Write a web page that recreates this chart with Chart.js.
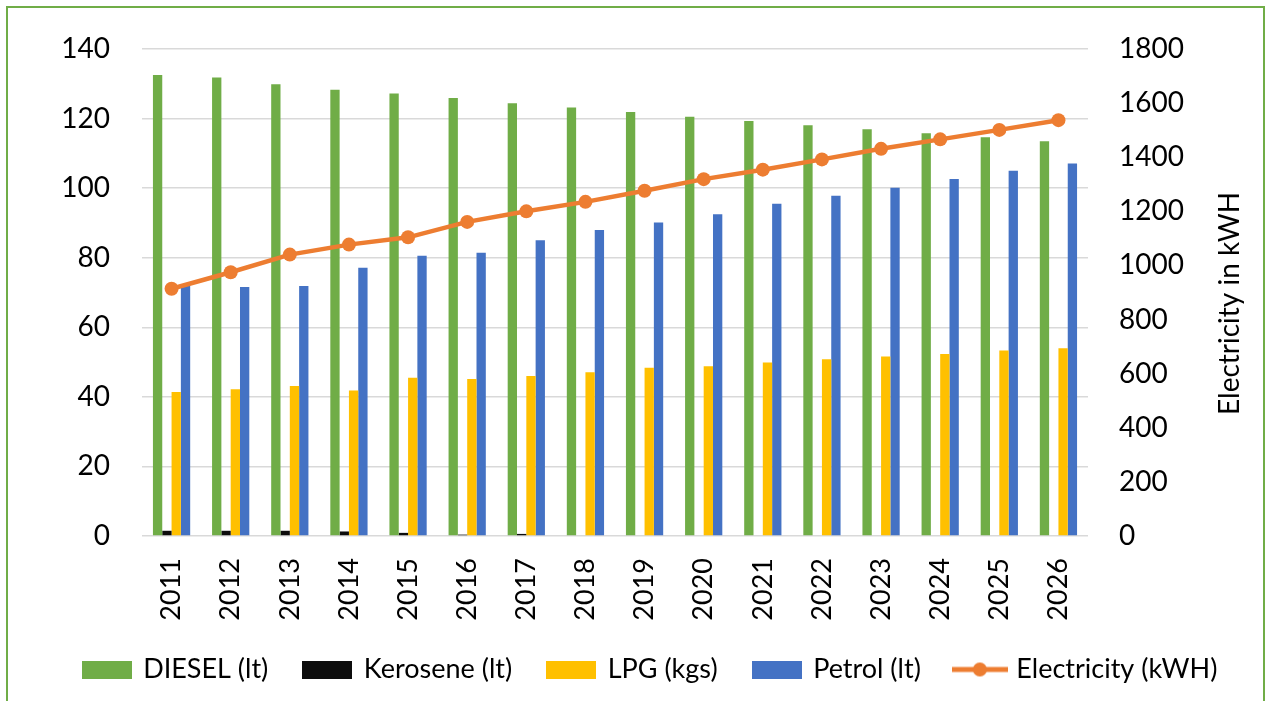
<!DOCTYPE html>
<html>
<head>
<meta charset="utf-8">
<script src="https://cdn.jsdelivr.net/npm/chart.js@4.4.0/dist/chart.umd.min.js"></script>
<style>
  html, body { margin: 0; padding: 0; background: #fff; overflow: hidden; }
  #frame { position: absolute; left: 6px; top: 6px; width: 1255px; height: 760px; border: 2px solid #70AD47; }
  #wrap { position: absolute; left: 0; top: 0; width: 1267px; height: 701px; }
</style>
</head>
<body>
<div id="frame"></div>
<div id="wrap"><canvas id="chart"></canvas></div>
<script>
// data
const years = ["2011", "2012", "2013", "2014", "2015", "2016", "2017", "2018",
               "2019", "2020", "2021", "2022", "2023", "2024", "2025", "2026"];
const diesel = [132.5, 131.8, 129.9, 128.3, 127.2, 125.9, 124.4, 123.2,
                121.9, 120.5, 119.3, 118.1, 116.9, 115.8, 114.6, 113.5];
const kerosene = [1.5, 1.5, 1.5, 1.3, 0.9, 0.4, 0.6, 0, 0, 0, 0, 0, 0, 0, 0, 0];
const lpg = [41.4, 42.2, 43.1, 41.8, 45.5, 45.1, 46.0, 47.1,
             48.4, 48.8, 49.9, 50.8, 51.6, 52.3, 53.3, 54.0];
const petrol = [72.0, 71.6, 71.9, 77.1, 80.6, 81.4, 85.0, 88.0,
                90.1, 92.5, 95.5, 97.8, 100.1, 102.6, 105.0, 107.1];
const electricity = [914, 975, 1040, 1077, 1104, 1161, 1200, 1235,
                     1276, 1319, 1354, 1392, 1431, 1466, 1501, 1537];

const FONT = "Lato";
const green = "#70AD47", black = "#0D0D0D", yellow = "#FFC000", blue = "#4472C4", orange = "#ED7D31";

// legend swatches
function boxSwatch(color) {
    const c = document.createElement("canvas");
    c.width = 50; c.height = 18;
    const g = c.getContext("2d");
    g.fillStyle = color;
    g.fillRect(0, 0, 50, 18);
    return c;
}
function lineSwatch(color) {
    const c = document.createElement("canvas");
    c.width = 56; c.height = 18;
    const g = c.getContext("2d");
    g.strokeStyle = color;
    g.lineWidth = 5;
    g.beginPath(); g.moveTo(0, 9); g.lineTo(56, 9); g.stroke();
    g.fillStyle = color;
    g.beginPath(); g.arc(28, 9, 7, 0, Math.PI * 2); g.fill();
    return c;
}
const swatches = [boxSwatch(green), boxSwatch(black), boxSwatch(yellow), boxSwatch(blue), lineSwatch(orange)];

const rightTitle = {
    id: "rightTitle",
    afterDraw(chart) {
        const s = chart.scales.y2;
        const ctx = chart.ctx;
        ctx.save();
        ctx.translate(1230, (s.top + s.bottom) / 2 + 11);
        ctx.rotate(-Math.PI / 2);
        ctx.font = "28px " + FONT;
        ctx.fillStyle = "#000";
        ctx.textAlign = "center";
        ctx.textBaseline = "middle";
        ctx.fillText("Electricity in kWH", 0, 0);
        ctx.restore();
    }
};

const barOpts = { categoryPercentage: 0.63, barPercentage: 1.0, order: 1, yAxisID: "y" };

new Chart(document.getElementById("chart"), {
    type: "bar",
    data: {
        labels: years,
        datasets: [
            { label: "DIESEL (lt)", data: diesel, backgroundColor: green, ...barOpts },
            { label: "Kerosene (lt)", data: kerosene, backgroundColor: black, ...barOpts },
            { label: "LPG (kgs)", data: lpg, backgroundColor: yellow, ...barOpts },
            { label: "Petrol (lt)", data: petrol, backgroundColor: blue, ...barOpts },
            {
                type: "line",
                label: "Electricity (kWH)",
                data: electricity,
                yAxisID: "y2",
                order: 0,
                borderColor: orange,
                backgroundColor: orange,
                borderWidth: 4.5,
                pointRadius: 7,
                pointBackgroundColor: orange,
                pointBorderWidth: 0,
                tension: 0
            }
        ]
    },
    options: {
        responsive: true,
        maintainAspectRatio: false,
        animation: false,
        layout: { padding: { top: 49, left: 34, right: 0, bottom: 8 } },
        scales: {
            x: {
                grid: { display: false, drawTicks: false },
                border: { display: false },
                ticks: {
                    minRotation: 90, maxRotation: 90, padding: 22,
                    color: "#000", font: { family: FONT, size: 27 }
                },
                afterFit(s) { s.height = 84; }
            },
            y: {
                position: "left",
                min: 0, max: 140,
                ticks: { stepSize: 20, padding: 32, color: "#000", font: { family: FONT, size: 28 } },
                grid: { color: "#D9D9D9", lineWidth: 1.5, drawTicks: false },
                border: { display: false },
                afterFit(s) { s.width = 108; }
            },
            y2: {
                position: "right",
                min: 0, max: 1800,
                ticks: {
                    stepSize: 200, padding: 31, color: "#000", font: { family: FONT, size: 28 },
                    callback: v => String(v)
                },
                grid: { display: false, drawTicks: false },
                border: { display: false },
                afterFit(s) { s.width = 179; }
            }
        },
        plugins: {
            legend: {
                position: "bottom",
                labels: {
                    usePointStyle: true,
                    pointStyleWidth: 46,
                    padding: 36,
                    color: "#000",
                    font: { family: FONT, size: 27 },
                    generateLabels(chart) {
                        return chart.data.datasets.map((d, i) => ({
                            text: d.label,
                            pointStyle: swatches[i],
                            fillStyle: d.backgroundColor,
                            strokeStyle: d.backgroundColor,
                            lineWidth: 0,
                            hidden: false,
                            datasetIndex: i,
                            fontColor: "#000"
                        }));
                    }
                }
            },
            tooltip: { enabled: false }
        }
    },
    plugins: [rightTitle]
});
</script>
</body>
</html>
